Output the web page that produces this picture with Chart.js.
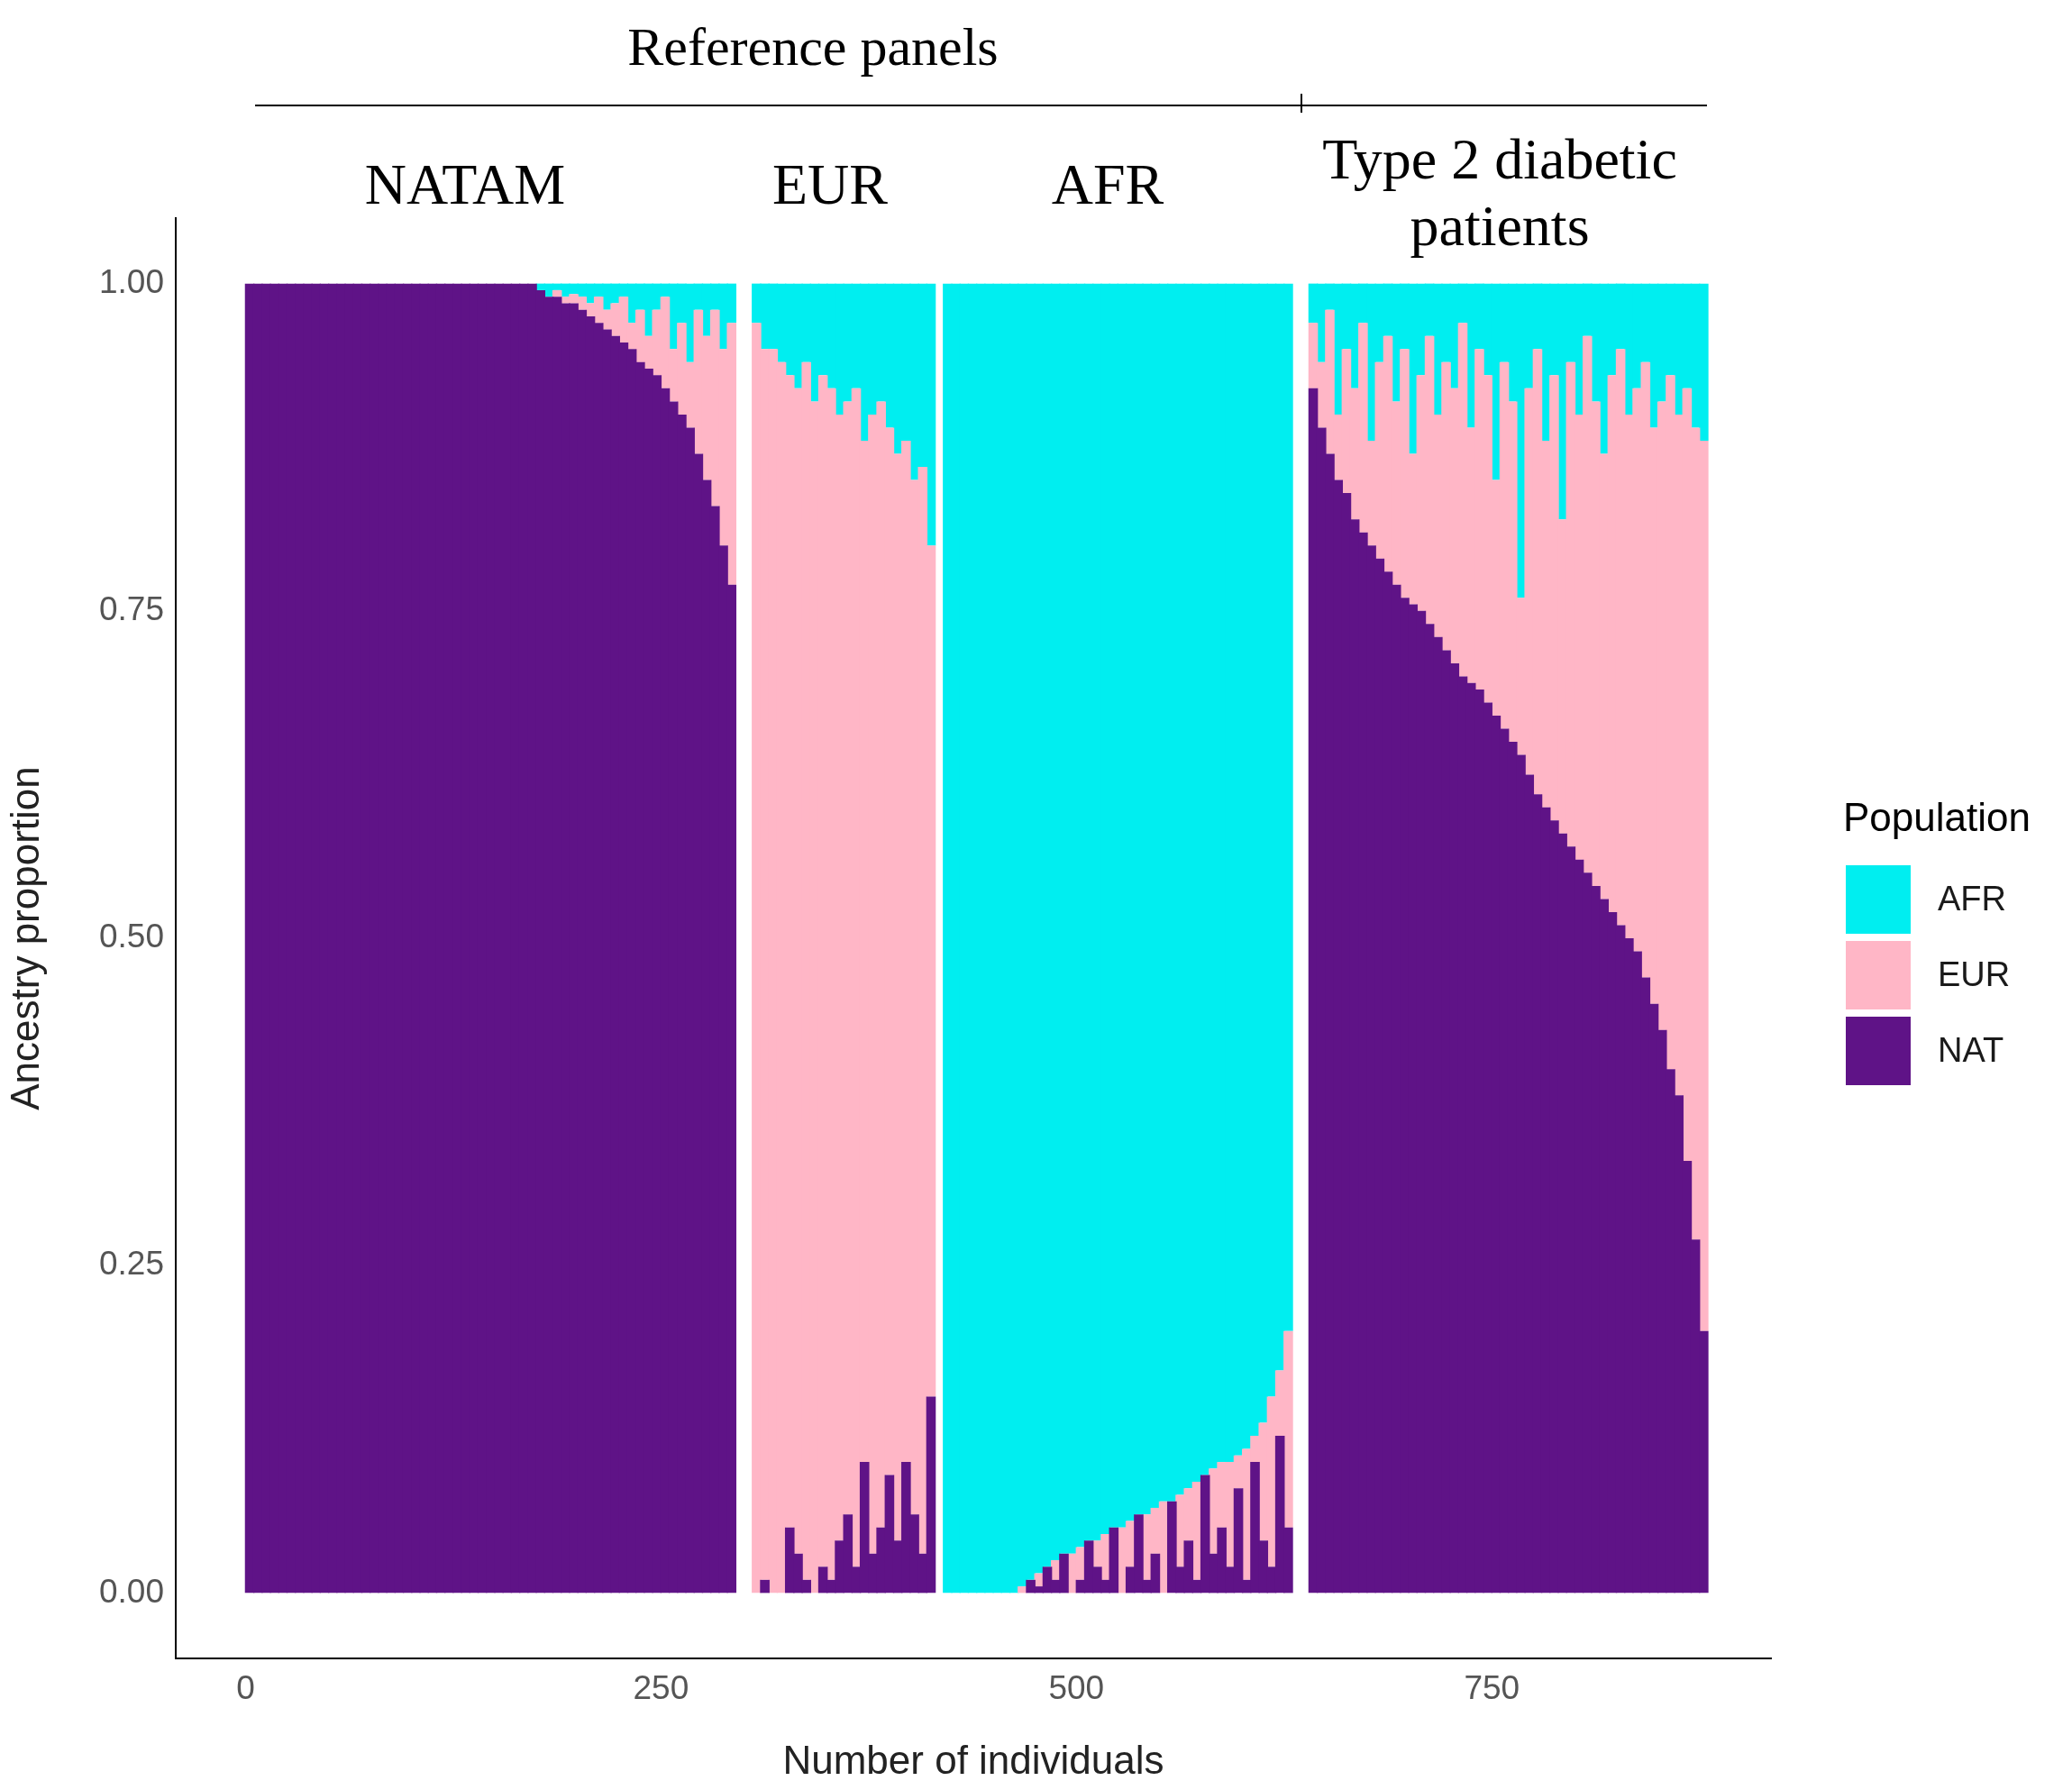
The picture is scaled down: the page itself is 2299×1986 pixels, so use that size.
<!DOCTYPE html>
<html><head><meta charset="utf-8">
<script src="https://cdn.jsdelivr.net/npm/chart.js@4"></script>
<style>html,body{margin:0;padding:0;background:#fff}#wrap{width:2299px;height:1986px}</style>
</head><body><div id="wrap"><canvas id="c" width="2299" height="1986"></canvas></div>
<script>
// Panels: start individual index, step 5 individuals per bar
const panelNames = ["NATAM", "EUR", "AFR", "Type 2 diabetic patients"];
const panelStarts = [0, 305, 420, 640];
const xTicks = [0, 250, 500, 750];
const yTicks = [0, 0.25, 0.5, 0.75, 1];
const legendLabels = ["AFR", "EUR", "NAT"];

// NAT and AFR proportions per bar; EUR is the remainder (proportions sum to 1)
const natNATAM = [1,1,1,1,1,1,1,1,1,1,1,1,1,1,1,1,1,1,1,1,1,1,1,1,1,1,1,1,1,1,1,1,1,1,1,
  0.995,0.99,0.99,0.985,0.985,0.98,0.975,0.97,0.965,0.96,0.955,0.95,0.94,0.935,0.93,0.92,0.91,0.90,0.89,0.87,0.85,0.83,0.80,0.77];
const afrNATAM = [0,0,0,0,0,0,0,0,0,0,0,0,0,0,0,0,0,0,0,0,0,0,0,0,0,0,0,0,0,0,0,0,0,0,0,
  0.005,0.01,0.005,0.01,0.008,0.01,0.015,0.01,0.02,0.015,0.01,0.03,0.02,0.04,0.02,0.01,0.05,0.03,0.06,0.02,0.04,0.02,0.05,0.03];

const natEUR = [0,0.01,0,0,0.05,0.03,0.01,0,0.02,0.01,0.04,0.06,0.02,0.1,0.03,0.05,0.09,0.04,0.1,0.06,0.03,0.15];
const afrEUR = [0.03,0.05,0.05,0.06,0.07,0.08,0.06,0.09,0.07,0.08,0.1,0.09,0.08,0.12,0.1,0.09,0.11,0.13,0.12,0.15,0.14,0.2];

const natAFR = [0,0,0,0,0,0,0,0,0,0,0.01,0.005,0.02,0.01,0.03,0,0.01,0.04,0.02,0.01,0.05,0,0.02,0.06,0.01,0.03,0,0.07,0.02,0.04,0.01,0.09,0.03,0.05,0.02,0.08,0.01,0.1,0.04,0.02,0.12,0.05];
const afrAFR = [1,1,1,1,1,1,1,1,1,0.995,0.99,0.985,0.98,0.975,0.97,0.97,0.965,0.96,0.96,0.955,0.95,0.95,0.945,0.94,0.94,0.935,0.93,0.93,0.925,0.92,0.915,0.91,0.905,0.9,0.9,0.895,0.89,0.88,0.87,0.85,0.83,0.8];

const natT2D = [0.92,0.89,0.87,0.85,0.84,0.82,0.81,0.80,0.79,0.78,0.77,0.76,0.755,0.75,0.74,0.73,0.72,0.71,0.70,0.695,0.69,0.68,0.67,0.66,0.65,0.64,0.625,0.61,0.60,0.59,0.58,0.57,0.56,0.55,0.54,0.53,0.52,0.51,0.50,0.49,0.47,0.45,0.43,0.40,0.38,0.33,0.27,0.20];
const afrT2D = [0.03,0.06,0.02,0.1,0.05,0.08,0.03,0.12,0.06,0.04,0.09,0.05,0.13,0.07,0.04,0.1,0.06,0.08,0.03,0.11,0.05,0.07,0.15,0.06,0.09,0.24,0.08,0.05,0.12,0.07,0.18,0.06,0.1,0.04,0.09,0.13,0.07,0.05,0.1,0.08,0.06,0.11,0.09,0.07,0.1,0.08,0.11,0.12];

const natGroups = [natNATAM, natEUR, natAFR, natT2D];
const afrGroups = [afrNATAM, afrEUR, afrAFR, afrT2D];
const COL = {AFR:'#00EEF0', EUR:'#FFB6C6', NAT:'#5F1387'};

const natData=[], eurData=[], afrData=[];
natGroups.forEach((g,gi)=>g.forEach((v,i)=>{
  const x = panelStarts[gi] + 2.5 + i*5;
  const a = afrGroups[gi][i];
  natData.push({x, y:v});
  afrData.push({x, y:a});
  eurData.push({x, y:Math.max(0, 1 - v - a)});
}));

const overlay = {
  id:'overlay',
  afterDraw(ch){
    const c = ch.ctx;
    c.save();
    c.fillStyle='#000'; c.textAlign='center'; c.textBaseline='alphabetic';
    c.font='60px "Liberation Serif", serif';
    c.fillText('Reference panels', 902, 72);
    c.strokeStyle='#000'; c.lineWidth=2;
    c.beginPath(); c.moveTo(283,117); c.lineTo(1894,117);
    c.moveTo(1444,104); c.lineTo(1444,125); c.stroke();
    c.font='64px "Liberation Serif", serif';
    c.fillText('NATAM', 516, 226);
    c.fillText('EUR', 921, 226);
    c.fillText('AFR', 1229, 226);
    c.fillText('Type 2 diabetic', 1664, 198);
    c.fillText('patients', 1664, 272);
    // legend
    c.textAlign='left'; c.textBaseline='middle';
    c.font='44px "Liberation Sans", Arial, sans-serif';
    c.fillText('Population', 2045, 910);
    const cols=[COL.AFR, COL.EUR, COL.NAT];
    legendLabels.forEach((l,i)=>{
      c.fillStyle=cols[i];
      c.fillRect(2048, 960+i*84, 72, 76);
      c.fillStyle='#1a1a1a';
      c.font='38px "Liberation Sans", Arial, sans-serif';
      c.fillText(l, 2150, 1000+i*84);
    });
    c.restore();
  }
};

const ds = (label,data,color)=>({label,data,backgroundColor:color,borderColor:color,borderWidth:0,
  barPercentage:1.15,categoryPercentage:1,stack:'s'});

new Chart(document.getElementById('c'),{
  type:'bar',
  data:{datasets:[ds('NAT',natData,COL.NAT), ds('EUR',eurData,COL.EUR), ds('AFR',afrData,COL.AFR)]},
  options:{
    responsive:false, animation:false, devicePixelRatio:1,
    layout:{padding:{top:242,right:334,left:0,bottom:0}},
    plugins:{legend:{display:false},tooltip:{enabled:false}},
    scales:{
      x:{type:'linear',stacked:true,min:-42,max:918,offset:false,
        grid:{display:false,drawTicks:true,tickLength:10,tickColor:'#333'},
        border:{color:'#000',width:2},
        afterBuildTicks:s=>{s.ticks=xTicks.map(v=>({value:v}));},
        afterFit:s=>{s.height=146;},
        ticks:{color:'#555',font:{size:37,family:'"Liberation Sans", Arial'},maxRotation:0},
        title:{display:true,text:'Number of individuals',color:'#222',font:{size:44,family:'"Liberation Sans", Arial'},padding:{top:-6}}},
      y:{stacked:true,min:-0.05,max:1.05,
        grid:{display:false,drawTicks:true,tickLength:10,tickColor:'#333'},
        border:{color:'#000',width:2},
        afterBuildTicks:s=>{s.ticks=yTicks.map(v=>({value:v}));},
        afterFit:s=>{s.width=195;},
        ticks:{color:'#555',font:{size:37,family:'"Liberation Sans", Arial'},callback:v=>Number(v).toFixed(2)},
        title:{display:true,text:'Ancestry proportion',color:'#222',font:{size:44,family:'"Liberation Sans", Arial'},padding:{bottom:4}}}
    }
  },
  plugins:[overlay]
});
</script></body></html>
